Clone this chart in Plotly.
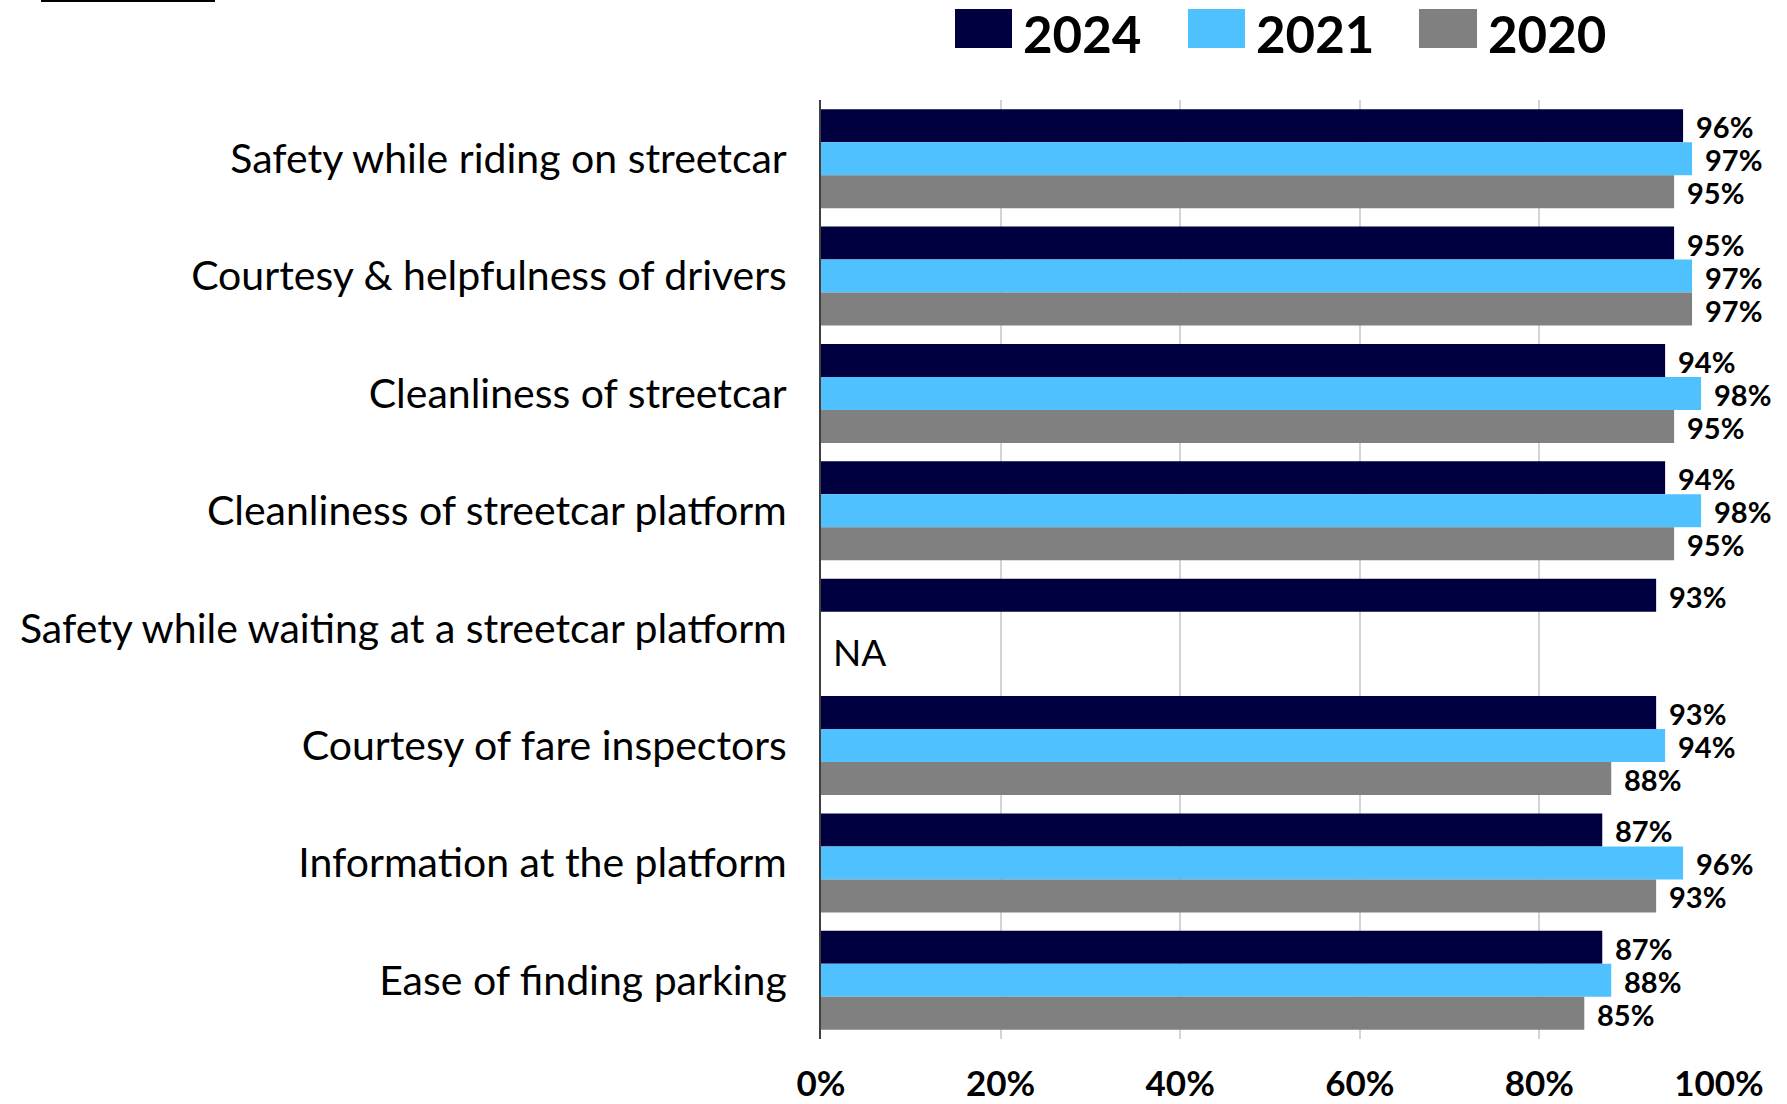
import plotly.graph_objects as go

# Survey results: share of riders satisfied, by attribute and survey year
categories = [
    "Safety while riding on streetcar",
    "Courtesy & helpfulness of drivers",
    "Cleanliness of streetcar",
    "Cleanliness of streetcar platform",
    "Safety while waiting at a streetcar platform",
    "Courtesy of fare inspectors",
    "Information at the platform",
    "Ease of finding parking",
]
series_names = ["2024", "2021", "2020"]
values_2024 = [0.96, 0.95, 0.94, 0.94, 0.93, 0.93, 0.87, 0.87]
values_2021 = [0.97, 0.97, 0.98, 0.98, None, 0.94, 0.96, 0.88]
values_2020 = [0.95, 0.97, 0.95, 0.95, None, 0.88, 0.93, 0.85]
x_ticks = [0, 0.2, 0.4, 0.6, 0.8, 1.0]
x_tick_labels = ["0%", "20%", "40%", "60%", "80%", "100%"]
missing_label = "NA"

colors = ["#000040", "#4FC1FF", "#808080"]
series_values = [values_2024, values_2021, values_2020]

W, H = 1787, 1104
ML, MR, MT, MB = 821, 68, 100, 65
plot_w = W - ML - MR
plot_h = H - MT - MB


def px_x(px):
    return (px - ML) / plot_w


def px_y(py):
    return 1 - (py - MT) / plot_h


BARGAP = 0.157
slot = (1 - BARGAP) / len(series_names)

fig = go.Figure()
for name, vals, col in zip(series_names, series_values, colors):
    fig.add_trace(go.Bar(
        name=name, y=categories, x=vals, orientation="h",
        marker=dict(color=col, line=dict(color=col, width=0)),
        showlegend=False,
    ))

annotations = []
# value labels to the right of each bar
for si, vals in enumerate(series_values):
    offset = (si - (len(series_names) - 1) / 2) * slot
    for ci, v in enumerate(vals):
        if v is None:
            continue
        annotations.append(dict(
            x=v, y=ci + offset, xref="x", yref="y",
            text=f"{round(v * 100)}%", showarrow=False,
            xanchor="left", yanchor="middle", xshift=11, yshift=-1,
            font=dict(family="Lato", size=29, color="black", weight="bold"),
        ))

# "NA" marker for the attribute without earlier survey data
for ci in range(len(categories)):
    if values_2021[ci] is None and values_2020[ci] is None:
        annotations.append(dict(
            x=0, y=ci + 0.2, xref="x", yref="y", text=missing_label,
            showarrow=False, xanchor="left", yanchor="middle", xshift=10,
            font=dict(family="Lato", size=37, color="black"),
        ))

# legend drawn as large swatches with bold year labels
shapes = []
legend_boxes = [(955, 1012), (1188, 1245), (1419, 1477)]
for (x0, x1), name, col in zip(legend_boxes, series_names, colors):
    shapes.append(dict(
        type="rect", xref="paper", yref="paper",
        x0=px_x(x0), x1=px_x(x1), y0=px_y(48), y1=px_y(9),
        fillcolor=col, line=dict(width=0),
    ))
    annotations.append(dict(
        x=px_x(x1 + 9), y=px_y(34), xref="paper", yref="paper",
        text=name, showarrow=False, xanchor="left", yanchor="middle",
        font=dict(family="Lato", size=51, color="black", weight="bold"),
    ))

# short rule at the top-left edge
shapes.append(dict(
    type="line", xref="paper", yref="paper",
    x0=px_x(41), x1=px_x(215), y0=px_y(1), y1=px_y(1),
    line=dict(color="black", width=2),
))

fig.update_layout(
    width=W, height=H,
    margin=dict(l=ML, r=MR, t=MT, b=MB, autoexpand=False),
    paper_bgcolor="white", plot_bgcolor="white",
    barmode="group", bargap=BARGAP, bargroupgap=0,
    annotations=annotations, shapes=shapes,
    font=dict(family="Lato", color="black"),
)
fig.update_xaxes(
    range=[0, 1], tickvals=x_ticks, ticktext=x_tick_labels,
    showgrid=True, gridcolor="#d4d4d4", gridwidth=1.5,
    zeroline=False, showline=False, automargin=False,
    ticks="", ticklabelstandoff=21,
    tickfont=dict(family="Lato", size=35, color="black", weight="bold"),
)
fig.update_yaxes(
    type="category", autorange="reversed", automargin=False,
    showline=True, linecolor="#404040", linewidth=2,
    showgrid=False, ticks="", ticklabelstandoff=24,
    tickfont=dict(family="Lato", size=41, color="black"),
)

fig.write_html("out.html")
